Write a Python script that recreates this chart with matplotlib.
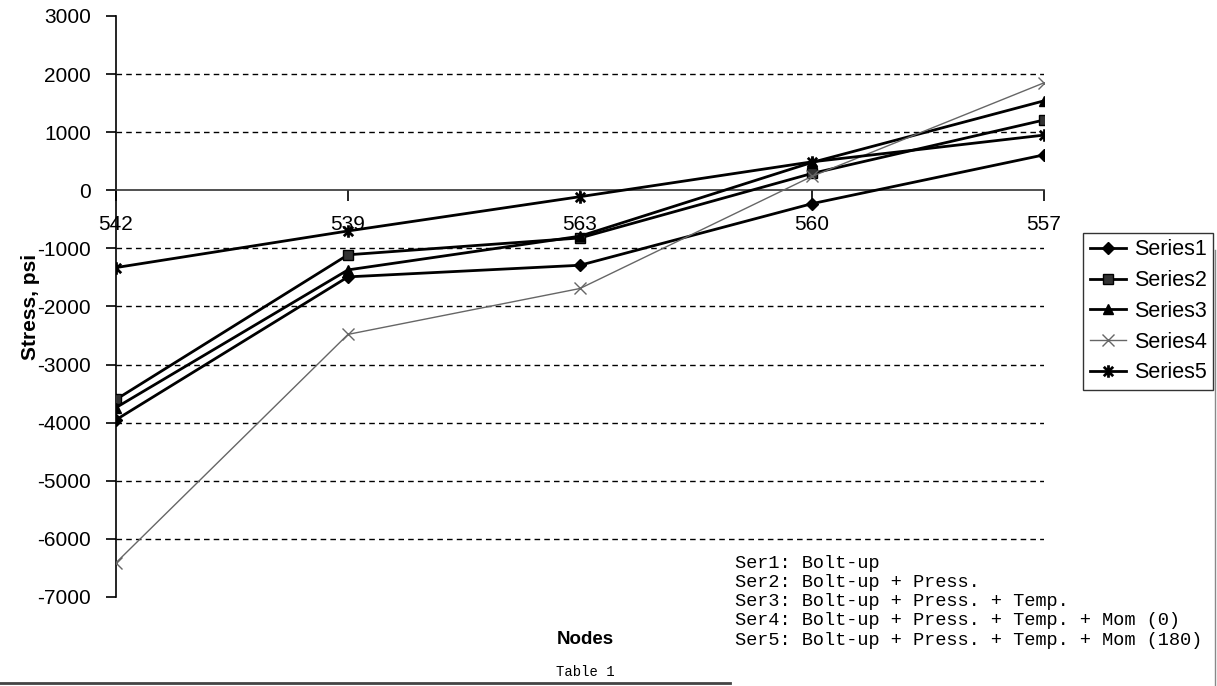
import matplotlib
matplotlib.use("Agg")
import matplotlib.pyplot as plt
from matplotlib.lines import Line2D
from matplotlib.path import Path

# Node labels along the path and stress values (psi) for each load case
nodes = ["542", "539", "563", "560", "557"]
series1 = [-3950, -1490, -1290, -230, 610]
series2 = [-3600, -1110, -820, 290, 1210]
series3 = [-3740, -1370, -790, 480, 1540]
series4 = [-6410, -2480, -1690, 240, 1850]
series5 = [-1330, -700, -110, 490, 950]
series_names = ["Series1", "Series2", "Series3", "Series4", "Series5"]
y_ticks = [3000, 2000, 1000, 0, -1000, -2000, -3000, -4000, -5000, -6000, -7000]
notes = [
    "Ser1: Bolt-up",
    "Ser2: Bolt-up + Press.",
    "Ser3: Bolt-up + Press. + Temp.",
    "Ser4: Bolt-up + Press. + Temp. + Mom (0)",
    "Ser5: Bolt-up + Press. + Temp. + Mom (180)",
]

plt.rcParams["font.family"] = ["Liberation Sans", "DejaVu Sans"]
MONO = ["Liberation Mono", "DejaVu Sans Mono"]

# star marker: an X crossed by a vertical stroke
star = Path([(0, -1), (0, 1), (-0.75, -0.75), (0.75, 0.75), (-0.75, 0.75), (0.75, -0.75)],
            [Path.MOVETO, Path.LINETO, Path.MOVETO, Path.LINETO, Path.MOVETO, Path.LINETO])

W, H = 1217, 686
fig = plt.figure(figsize=(W / 100, H / 100), dpi=100)
ax = fig.add_axes([116 / W, 1 - 597 / H, (1044 - 116) / W, (597 - 16) / H])

x = list(range(len(nodes)))
styles = [
    dict(marker="D", ms=6, color="black", lw=2.0, mfc="black"),
    dict(marker="s", ms=7, color="black", lw=2.0, mfc="#333333"),
    dict(marker="^", ms=7, color="black", lw=2.0, mfc="black"),
    dict(marker="x", ms=8, color="#666666", lw=1.0, mew=1.0),
    dict(marker=star, ms=9, color="black", lw=2.0, mew=2.0),
]
all_series = [series1, series2, series3, series4, series5]
handles = []
for vals, name, st in zip(all_series, series_names, styles):
    h, = ax.plot(x, vals, label=name, zorder=3, **st)
    handles.append(h)

ax.set_xlim(0, len(nodes) - 1)
ax.set_ylim(min(y_ticks), max(y_ticks))
ax.set_yticks(y_ticks)
ax.set_yticklabels([str(v) for v in y_ticks])
ax.set_xticks(x)
ax.set_xticklabels(nodes)

# dashed horizontal gridlines (not at the frame ends or at zero)
for v in y_ticks:
    if v not in (0, max(y_ticks), min(y_ticks)):
        ax.axhline(v, color="black", lw=1.0, ls=(0, (4, 3)), zorder=1)

ax.spines["top"].set_visible(False)
ax.spines["right"].set_visible(False)
ax.spines["left"].set_linewidth(1.2)
ax.spines["bottom"].set_position(("data", 0))
ax.spines["bottom"].set_color("#333333")
ax.spines["bottom"].set_linewidth(1.2)

ax.tick_params(axis="y", direction="out", length=7, width=1.2, labelsize=15, pad=11)
ax.tick_params(axis="x", direction="out", length=8, width=1.2, labelsize=15, pad=10)

ax.set_ylabel("Stress, psi", fontsize=15, fontweight="bold")
ax.yaxis.set_label_coords((40 - 116) / 928, 0.5)

fig.text(585 / W, 1 - 640 / H, "Nodes", ha="center", va="center",
         fontsize=13.5, fontweight="bold")
fig.text(585 / W, 1 - 672 / H, "Table 1", ha="center", va="center",
         fontsize=10, family=MONO)

for i, line in enumerate(notes):
    fig.text(735 / W, 1 - (563 + i * 19.3) / H, line, ha="left", va="center",
             fontsize=13.4, family=MONO)

leg = fig.legend(handles=handles, loc="upper right",
                 bbox_to_anchor=(1213 / W, 1 - 233 / H),
                 fontsize=15.5, frameon=True, fancybox=False, edgecolor="black",
                 handlelength=1.7, handletextpad=0.35, labelspacing=0.45,
                 borderpad=0.3, borderaxespad=0.0)
leg.get_frame().set_linewidth(1.0)

# page border lines
fig.add_artist(Line2D([0, 730 / W], [1 - 683 / H, 1 - 683 / H],
                      transform=fig.transFigure, color="#444444", lw=2.0))
fig.add_artist(Line2D([1215 / W, 1215 / W], [1 - 250 / H, 0],
                      transform=fig.transFigure, color="#888888", lw=1.0))

fig.savefig("out.png", dpi=100)
